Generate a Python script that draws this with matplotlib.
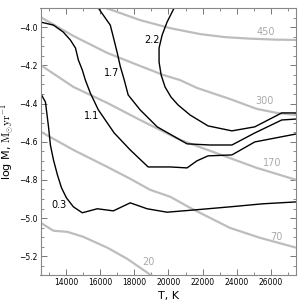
import matplotlib
matplotlib.use("Agg")
import matplotlib.pyplot as plt
from matplotlib.ticker import MultipleLocator

plt.rcParams['mathtext.fontset'] = 'cm'

# Gray isolines (labelled 450, 300, 170, 70, 20)
g450_T = [16360, 18340, 20100, 21850, 23310, 24770, 26230, 27500]
g450_M = [-3.900, -3.963, -4.005, -4.036, -4.052, -4.060, -4.065, -4.067]
g300_T = [12500, 14430, 16420, 18340, 19690, 20680, 21670, 23600, 25180, 26350, 27500]
g300_M = [-3.947, -4.046, -4.135, -4.203, -4.250, -4.277, -4.318, -4.376, -4.428, -4.449, -4.460]
g170_T = [12500, 14430, 16420, 18340, 20680, 22610, 25180, 27500]
g170_M = [-4.198, -4.313, -4.397, -4.486, -4.590, -4.653, -4.737, -4.800]
g70_T = [12500, 14430, 16420, 17760, 18930, 20100, 21270, 23600, 25360, 27500]
g70_M = [-4.547, -4.643, -4.732, -4.794, -4.852, -4.888, -4.946, -5.051, -5.103, -5.155]
g20_T = [12500, 13260, 14080, 15010, 16420, 17580, 18930, 19280]
g20_M = [-5.024, -5.066, -5.072, -5.098, -5.155, -5.213, -5.296, -5.315]

gray_labels = ['450', '300', '170', '70', '20']
gray_label_T = [25700, 25650, 26060, 26350, 18810]
gray_label_M = [-4.026, -4.386, -4.711, -5.098, -5.228]

# Black contours (labelled 0.3, 1.1, 1.7, 2.2)
c03_T = [12500, 12790, 12970, 13080, 13260, 13490, 13730, 14020, 14430, 14950,
         15830, 16770, 17760, 18750, 19920, 21670, 23600, 25530, 27500]
c03_M = [-4.345, -4.392, -4.522, -4.617, -4.695, -4.773, -4.841, -4.894, -4.941, -4.972,
         -4.951, -4.962, -4.920, -4.951, -4.969, -4.956, -4.941, -4.925, -4.915]
c11_T = [12500, 13260, 13840, 14250, 14550, 14720, 14950, 15130, 15420, 15890,
         16820, 17760, 18810, 20100, 21090, 21670, 22320, 23720, 25060, 27500]
c11_M = [-3.973, -3.989, -4.026, -4.067, -4.109, -4.172, -4.224, -4.277, -4.345, -4.433,
         -4.554, -4.643, -4.732, -4.732, -4.737, -4.700, -4.674, -4.669, -4.601, -4.559]
c17_T = [15890, 16590, 16770, 17000, 17170, 17410, 17640, 18340, 19340, 20680,
         21090, 22430, 23720, 25060, 26640, 27500]
c17_M = [-3.900, -3.989, -4.052, -4.135, -4.203, -4.277, -4.355, -4.433, -4.522, -4.590,
         -4.611, -4.617, -4.617, -4.554, -4.486, -4.481]
c22_T = [20330, 19920, 19630, 19450, 19450, 19570, 19800, 20150, 20560, 21270,
         22320, 23720, 25060, 26640, 27500]
c22_M = [-3.900, -3.973, -4.041, -4.109, -4.182, -4.250, -4.313, -4.366, -4.407, -4.460,
         -4.517, -4.543, -4.522, -4.449, -4.449]

black_labels = ['0.3', '1.1', '1.7', '2.2']
black_label_T = [13610, 15480, 16650, 19040]
black_label_M = [-4.930, -4.465, -4.240, -4.067]

fig = plt.figure(figsize=(3, 3), dpi=100)
ax = fig.add_axes([0.135, 0.082, 0.853, 0.891])

gray = '#bdbdbd'
for T, M in [(g450_T, g450_M), (g300_T, g300_M), (g170_T, g170_M),
             (g70_T, g70_M), (g20_T, g20_M)]:
    ax.plot(T, M, color=gray, lw=1.6, solid_capstyle='butt')
for lab, T, M in zip(gray_labels, gray_label_T, gray_label_M):
    ax.text(T, M, lab, color='#aaaaaa', fontsize=7, ha='center', va='center')

for T, M in [(c03_T, c03_M), (c11_T, c11_M), (c17_T, c17_M), (c22_T, c22_M)]:
    ax.plot(T, M, color='black', lw=1.0)
for lab, T, M in zip(black_labels, black_label_T, black_label_M):
    ax.text(T, M, lab, color='black', fontsize=7, ha='center', va='center')

ax.set_xlim(12500, 27500)
ax.set_ylim(-5.3, -3.9)
ax.set_xticks([14000, 16000, 18000, 20000, 22000, 24000, 26000])
ax.set_yticks([-5.2, -5.0, -4.8, -4.6, -4.4, -4.2, -4.0])
ax.xaxis.set_minor_locator(MultipleLocator(1000))
ax.yaxis.set_minor_locator(MultipleLocator(0.05))
ax.tick_params(which='both', direction='in', top=True, right=True,
               color='#777777', labelsize=5.5)
ax.tick_params(axis='x', which='major', pad=2)
ax.tick_params(axis='y', which='major', pad=2)
ax.tick_params(which='major', length=4, width=0.7)
ax.tick_params(which='minor', length=2, width=0.6)
for s in ax.spines.values():
    s.set_color('#888888')
    s.set_linewidth(0.8)

ax.set_xlabel('T, K', fontsize=8, labelpad=0)
ax.set_ylabel('log \u1E40, $\\mathrm{M_{\\odot}yr^{-1}}$', fontsize=8, labelpad=0)
ax.yaxis.set_label_coords(-0.094, 0.5)
ax.xaxis.set_label_coords(0.5, -0.057)

fig.savefig('out.png', dpi=100)
